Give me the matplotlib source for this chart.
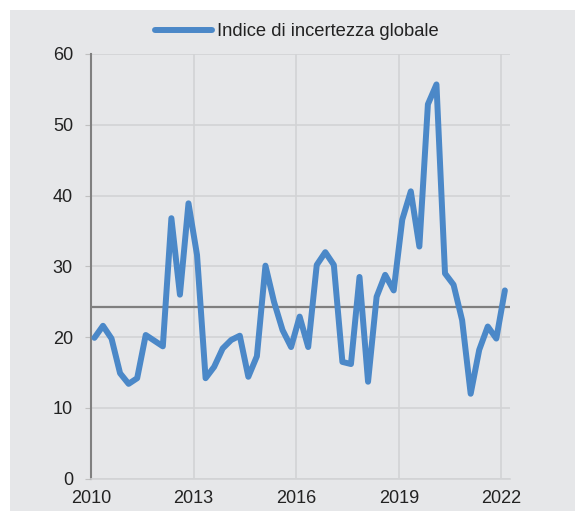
import numpy as np
import matplotlib
matplotlib.use('Agg')
import matplotlib.pyplot as plt
from matplotlib.patches import Rectangle

plt.rcParams['font.family'] = ['Liberation Sans', 'DejaVu Sans']

# quarterly values, 2010Q1 .. 2022Q1
values = [19.9, 21.6, 19.8, 14.9, 13.4, 14.2, 20.3, 19.5, 18.7, 36.8,
          26.0, 38.9, 31.6, 14.2, 15.8, 18.4, 19.6, 20.2, 14.4, 17.3,
          30.1, 25.0, 21.0, 18.6, 22.9, 18.6, 30.2, 32.0, 30.2, 16.5,
          16.2, 28.5, 13.7, 25.7, 28.8, 26.6, 36.6, 40.6, 32.8, 52.9,
          55.7, 29.0, 27.4, 22.4, 12.0, 18.2, 21.5, 19.8, 26.6]
start_year = 2010
average = 24.3
series_label = 'Indice di incertezza globale'
xticks = [2010, 2013, 2016, 2019, 2022]
yticks = [0, 10, 20, 30, 40, 50, 60]

x = start_year + 0.1 + 0.25 * np.arange(len(values))

bg = '#e6e7e9'
fig = plt.figure(figsize=(5.75, 5.11), dpi=100)
fig.patch.set_facecolor('white')
fig.patches.append(Rectangle((10 / 575, 0), 1, 501 / 511, transform=fig.transFigure,
                             facecolor=bg, edgecolor='none', zorder=-10))

ax = fig.add_axes([91 / 575, 32.3 / 511, 419 / 575, 424.7 / 511])
ax.set_zorder(1)
ax.set_facecolor(bg)

ax.grid(True, color='#d2d3d5', linewidth=1.2, zorder=1)
ax.axhline(average, color='#7f7f7f', linewidth=1.6, zorder=2)
line, = ax.plot(x, values, color='#4b88c8', linewidth=4.3, zorder=3,
                solid_joinstyle='round', solid_capstyle='round',
                label=series_label)

ax.set_xlim(2010, 2022.25)
ax.set_ylim(0, 60)
ax.set_xticks(xticks)
ax.set_yticks(yticks)

for s in ['top', 'right']:
    ax.spines[s].set_visible(False)
ax.spines['left'].set_color('#808080')
ax.spines['left'].set_linewidth(1.5)
ax.spines['bottom'].set_color('#d2d3d5')
ax.spines['bottom'].set_linewidth(1.2)

ax.tick_params(axis='y', length=4, color='#c0c0c0', pad=9, labelsize=13,
               labelcolor='#222222')
ax.tick_params(axis='x', length=0, pad=8, labelsize=13, labelcolor='#222222')

fig.legend(handles=[line], loc='center', bbox_to_anchor=(297 / 575, 1 - 32 / 511),
           frameon=False, fontsize=13.2, handlelength=3.1, handletextpad=0.25,
           labelcolor='#222222')

fig.savefig('out.png', dpi=100)
